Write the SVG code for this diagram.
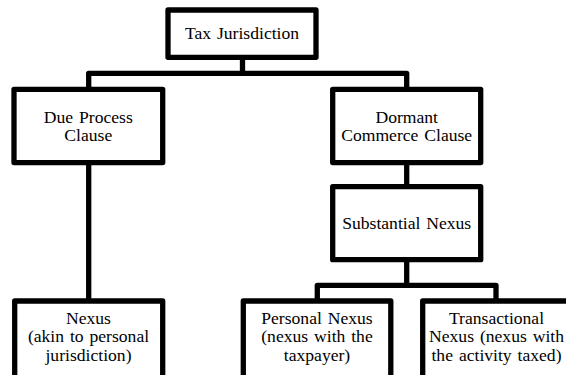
<svg xmlns="http://www.w3.org/2000/svg" width="566" height="375" viewBox="0 0 566 375">
<style>
.box{fill:#fff;stroke:#000;stroke-width:5.3;stroke-linejoin:round}
.conn{fill:none;stroke:#000;stroke-width:5.3;stroke-linejoin:round}
.t{font-family:"Liberation Serif","Times New Roman",serif;font-size:17.6px;fill:#000;text-anchor:middle;word-spacing:1.5px}
</style>
<rect width="566" height="375" fill="#fff"/>
<g id="connectors">
<path class="conn" d="M242.5 60 V73.3"/>
<path class="conn" d="M88.7 89 V73.3 H406.7 V89"/>
<path class="conn" d="M88.7 163 V299"/>
<path class="conn" d="M406.7 163 V187"/>
<path class="conn" d="M406.7 260 V285.3"/>
<path class="conn" d="M317.3 299 V285.3 H496 V299"/>
</g>
<g id="tax-jurisdiction">
<rect class="box" x="168" y="10" width="148" height="47.3"/>
<text class="t" x="242" y="38.7">Tax Jurisdiction</text>
</g>
<g id="due-process">
<rect class="box" x="14" y="89.3" width="148.7" height="73.3"/>
<text class="t" x="88.3" y="122.7">Due Process</text>
<text class="t" x="88.3" y="141.2">Clause</text>
</g>
<g id="dormant-commerce">
<rect class="box" x="332.7" y="89.3" width="148" height="73.3"/>
<text class="t" x="406.7" y="122.5">Dormant</text>
<text class="t" x="406.7" y="141">Commerce Clause</text>
</g>
<g id="substantial-nexus">
<rect class="box" x="332.7" y="186.7" width="148" height="73"/>
<text class="t" x="406.7" y="229">Substantial Nexus</text>
</g>
<g id="nexus">
<rect class="box" x="14.7" y="301" width="148" height="85"/>
<text class="t" x="88.5" y="323.7">Nexus</text>
<text class="t" x="88.5" y="342.3">(akin to personal</text>
<text class="t" x="88.5" y="361">jurisdiction)</text>
</g>
<g id="personal-nexus">
<rect class="box" x="243.3" y="301" width="147.5" height="85"/>
<text class="t" x="317" y="323.7">Personal Nexus</text>
<text class="t" x="317" y="342.3">(nexus with the</text>
<text class="t" x="317" y="361">taxpayer)</text>
</g>
<g id="transactional-nexus">
<rect class="box" x="422.7" y="301" width="148" height="85"/>
<text class="t" x="496.5" y="323.7">Transactional</text>
<text class="t" x="496.5" y="342.3">Nexus (nexus with</text>
<text class="t" x="496.5" y="361">the activity taxed)</text>
</g>
</svg>
